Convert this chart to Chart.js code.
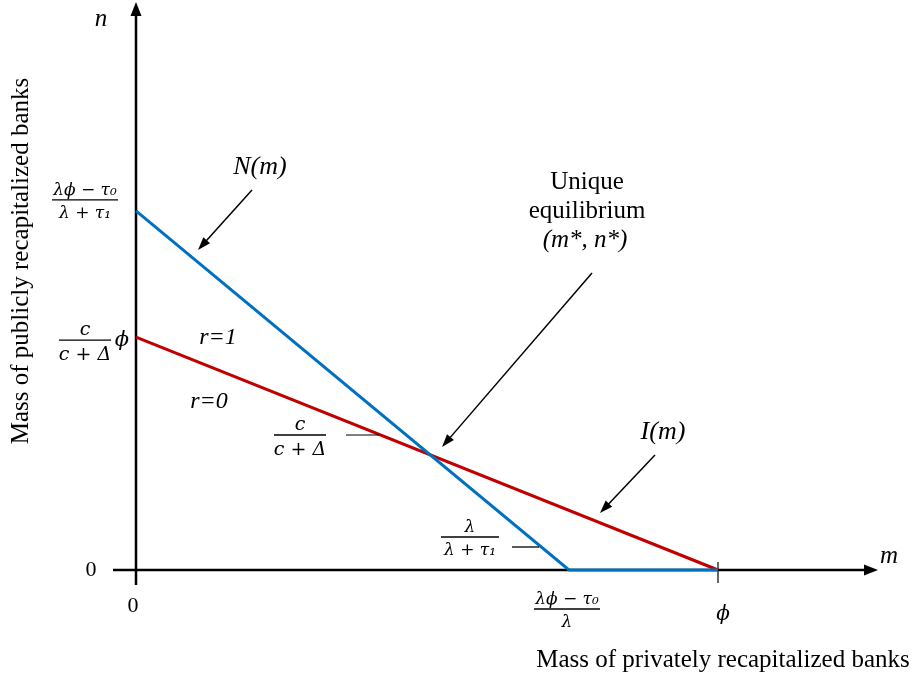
<!DOCTYPE html>
<html>
<head>
<meta charset="utf-8">
<script src="https://cdn.jsdelivr.net/npm/chart.js@4.4.0/dist/chart.umd.min.js"></script>
<style>
html,body{margin:0;padding:0;background:#fff;}
canvas{display:block;}
</style>
</head>
<body>
<canvas id="c" width="912" height="681"></canvas>
<script>
// ---- Data (m in units of phi = 1) ----
const nCurveM = [0, 0.744, 1];          // N(m): public recap curve
const nCurveN = [0.617, 0, 0];
const iCurveM = [0, 1];                 // I(m)
const iCurveN = [0.400, 0];
const xTickValues = [0, 0.744, 1];      // 0, (λϕ−τ0)/λ, ϕ
const yTickValues = [0, 0.400, 0.617];  // 0, c/(c+Δ)ϕ, (λϕ−τ0)/(λ+τ1)

const SERIF = '"Liberation Serif","Times New Roman",serif';
const MATH = '"DejaVu Serif",serif';

function toPts(xs, ys){ return xs.map((x,i)=>({x:x, y:ys[i]})); }

function arrow(ctx, x1,y1,x2,y2, head, w){
  const a = Math.atan2(y2-y1, x2-x1);
  ctx.beginPath();
  ctx.moveTo(x1,y1);
  ctx.lineTo(x2 - Math.cos(a)*head*0.8, y2 - Math.sin(a)*head*0.8);
  ctx.stroke();
  ctx.beginPath();
  ctx.moveTo(x2,y2);
  ctx.lineTo(x2 - Math.cos(a)*head + Math.sin(a)*w/2, y2 - Math.sin(a)*head - Math.cos(a)*w/2);
  ctx.lineTo(x2 - Math.cos(a)*head - Math.sin(a)*w/2, y2 - Math.sin(a)*head + Math.cos(a)*w/2);
  ctx.closePath();
  ctx.fill();
}

function frac(ctx, cx, ly, num, den, size, halfW){
  ctx.font = 'italic ' + size + 'px ' + MATH;
  ctx.textAlign = 'center';
  ctx.textBaseline = 'alphabetic';
  ctx.fillText(num, cx, ly - 5);
  ctx.fillText(den, cx, ly + size + 1);
  ctx.lineWidth = 1.3;
  ctx.beginPath();
  ctx.moveTo(cx - halfW, ly); ctx.lineTo(cx + halfW, ly);
  ctx.stroke();
}

const diagram = {
  id: 'diagram',
  beforeDatasetsDraw(chart){
    const ctx = chart.ctx, xs = chart.scales.x, ys = chart.scales.y;
    const ox = xs.getPixelForValue(0), oy = ys.getPixelForValue(0);
    ctx.save();
    ctx.strokeStyle = '#000'; ctx.fillStyle = '#000';
    // axes
    ctx.lineWidth = 2.5;
    arrow(ctx, ox, oy + 15, ox, 2, 14, 11);
    arrow(ctx, ox - 23, oy, 878, oy, 14, 11);
    // phi tick
    const px = xs.getPixelForValue(xTickValues[2]);
    ctx.lineWidth = 1.2;
    ctx.beginPath(); ctx.moveTo(px, oy - 8); ctx.lineTo(px, oy + 13); ctx.stroke();
    ctx.restore();
  },
  afterDatasetsDraw(chart){
    const ctx = chart.ctx, xs = chart.scales.x, ys = chart.scales.y;
    const ox = xs.getPixelForValue(0), oy = ys.getPixelForValue(0);
    ctx.save();
    ctx.fillStyle = '#000'; ctx.strokeStyle = '#000';
    ctx.textAlign = 'center'; ctx.textBaseline = 'middle';

    // axis letters
    ctx.font = 'italic 25px ' + SERIF;
    ctx.fillText('n', 101, 19);
    ctx.fillText('m', 889, 556);

    // zeros
    ctx.font = '22px ' + SERIF;
    ctx.fillText('0', 91, 570);
    ctx.fillText('0', 133, 606);

    // axis titles
    ctx.font = '25px ' + SERIF;
    ctx.fillText('Mass of privately recapitalized banks', 723, 660);
    ctx.save();
    ctx.translate(21, 261);
    ctx.rotate(-Math.PI/2);
    ctx.fillText('Mass of publicly recapitalized banks', 0, 0);
    ctx.restore();

    // y-axis fractions
    const yTop = ys.getPixelForValue(yTickValues[2]);
    const yMid = ys.getPixelForValue(yTickValues[1]);
    frac(ctx, 85, yTop - 11, 'λϕ − τ\u2080', 'λ + τ\u2081', 17, 33);
    frac(ctx, 85, yMid + 3, 'c', 'c + Δ', 19, 26);
    ctx.font = 'italic 21px ' + MATH;
    ctx.textAlign = 'center'; ctx.textBaseline = 'middle';
    ctx.fillText('ϕ', 122, yMid + 3);

    // x-axis fraction and phi
    const xKink = xs.getPixelForValue(xTickValues[1]);
    frac(ctx, xKink - 2, oy + 39, 'λϕ − τ\u2080', 'λ', 17, 33);
    ctx.font = 'italic 20px ' + MATH;
    ctx.textAlign = 'center'; ctx.textBaseline = 'middle';
    ctx.fillText('ϕ', xs.getPixelForValue(xTickValues[2]) + 5, 615);

    // slope labels
    frac(ctx, 300, 435, 'c', 'c + Δ', 19, 26);
    ctx.lineWidth = 1.2;
    ctx.beginPath(); ctx.moveTo(346, 435); ctx.lineTo(379, 435); ctx.stroke();
    frac(ctx, 470, 537, 'λ', 'λ + τ\u2081', 17, 29);
    ctx.beginPath(); ctx.moveTo(512, 547); ctx.lineTo(539, 547); ctx.stroke();

    // region labels
    ctx.font = 'italic 24px ' + SERIF;
    ctx.textAlign = 'center'; ctx.textBaseline = 'middle';
    ctx.fillText('r=1', 218, 338);
    ctx.fillText('r=0', 209, 402);
    ctx.font = 'italic 26px ' + SERIF;
    ctx.fillText('N(m)', 260, 167);
    ctx.fillText('I(m)', 663, 432);

    // equilibrium
    ctx.font = '25px ' + SERIF;
    ctx.fillText('Unique', 587, 182);
    ctx.fillText('equilibrium', 587, 211);
    ctx.font = 'italic 25px ' + SERIF;
    ctx.fillText('(m*, n*)', 585, 240);

    // pointer arrows
    ctx.lineWidth = 1.5;
    arrow(ctx, 252, 190, 198, 250, 13, 9);
    arrow(ctx, 592, 273, 442, 447, 13, 9);
    arrow(ctx, 655, 455, 600, 513, 13, 9);
    ctx.restore();
  }
};

new Chart(document.getElementById('c'), {
  type: 'line',
  data: {
    datasets: [
      { label: 'N(m)', data: toPts(nCurveM, nCurveN), borderColor: '#0070C0', borderWidth: 3, pointRadius: 0, fill: false, tension: 0 },
      { label: 'I(m)', data: toPts(iCurveM, iCurveN), borderColor: '#C00000', borderWidth: 3, pointRadius: 0, fill: false, tension: 0 }
    ]
  },
  options: {
    responsive: false,
    animation: false,
    layout: { padding: { left: 100, right: 12, top: 0, bottom: 81 } },
    plugins: { legend: { display: false }, tooltip: { enabled: false } },
    scales: {
      x: { type: 'linear', display: false, min: -36/582, max: -36/582 + 800/582 },
      y: { type: 'linear', display: false, min: -30/582, max: 570/582 }
    }
  },
  plugins: [diagram]
});
</script>
</body>
</html>
